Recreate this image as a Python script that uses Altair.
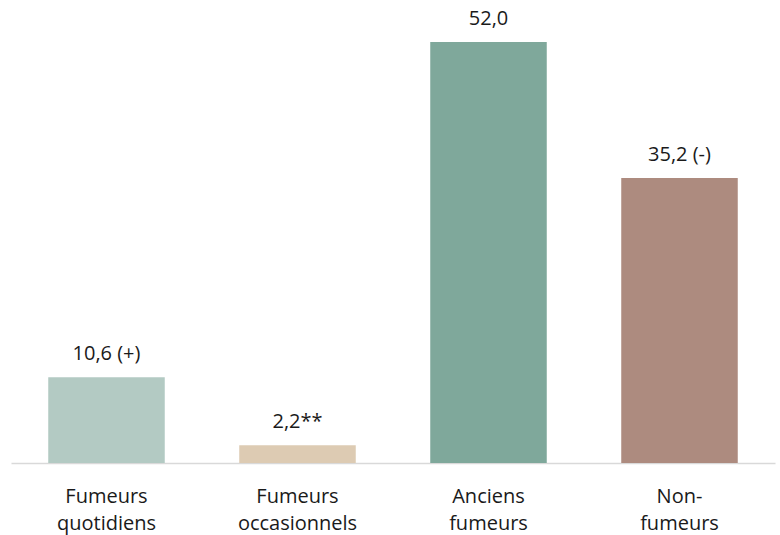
import altair as alt
import pandas as pd

categories = ["Fumeurs|quotidiens", "Fumeurs|occasionnels", "Anciens|fumeurs", "Non-|fumeurs"]
values = [10.6, 2.2, 52.0, 35.2]
value_labels = ["10,6 (+)", "2,2**", "52,0", "35,2 (-)"]
colors = ["#b3cac3", "#ddcbb3", "#7fa89b", "#ad8b7f"]

df = pd.DataFrame({"cat": categories, "val": values, "lab": value_labels})

x = alt.X("cat:N", sort=categories,
          scale=alt.Scale(paddingInner=0.39, paddingOuter=0.195),
          axis=alt.Axis(title=None, labelAngle=0, ticks=False, domainColor="#d9d9d9",
                        domainWidth=1.5, labelFont="Open Sans", labelFontSize=20,
                        labelColor="#1a1a1a", labelPadding=23, labelLineHeight=27,
                        labelExpr="split(datum.value, '|')"))
y = alt.Y("val:Q", scale=alt.Scale(domain=[0, 52], nice=False), axis=None)

bars = alt.Chart(df).mark_bar().encode(
    x=x, y=y,
    color=alt.Color("cat:N", sort=categories, scale=alt.Scale(domain=categories, range=colors), legend=None),
)
text = alt.Chart(df).mark_text(baseline="bottom", dy=-13, font="Open Sans", fontSize=20, color="#1a1a1a").encode(
    x=alt.X("cat:N", sort=categories), y=y, text="lab:N"
)

chart = (bars + text).properties(
    width=764, height=421,
    autosize=alt.AutoSizeParams(type="none"),
    padding={"left": 11, "top": 42, "right": 5, "bottom": 72},
).configure_view(stroke=None)

chart.save("out.html", embed_options={"renderer": "svg", "actions": False})
